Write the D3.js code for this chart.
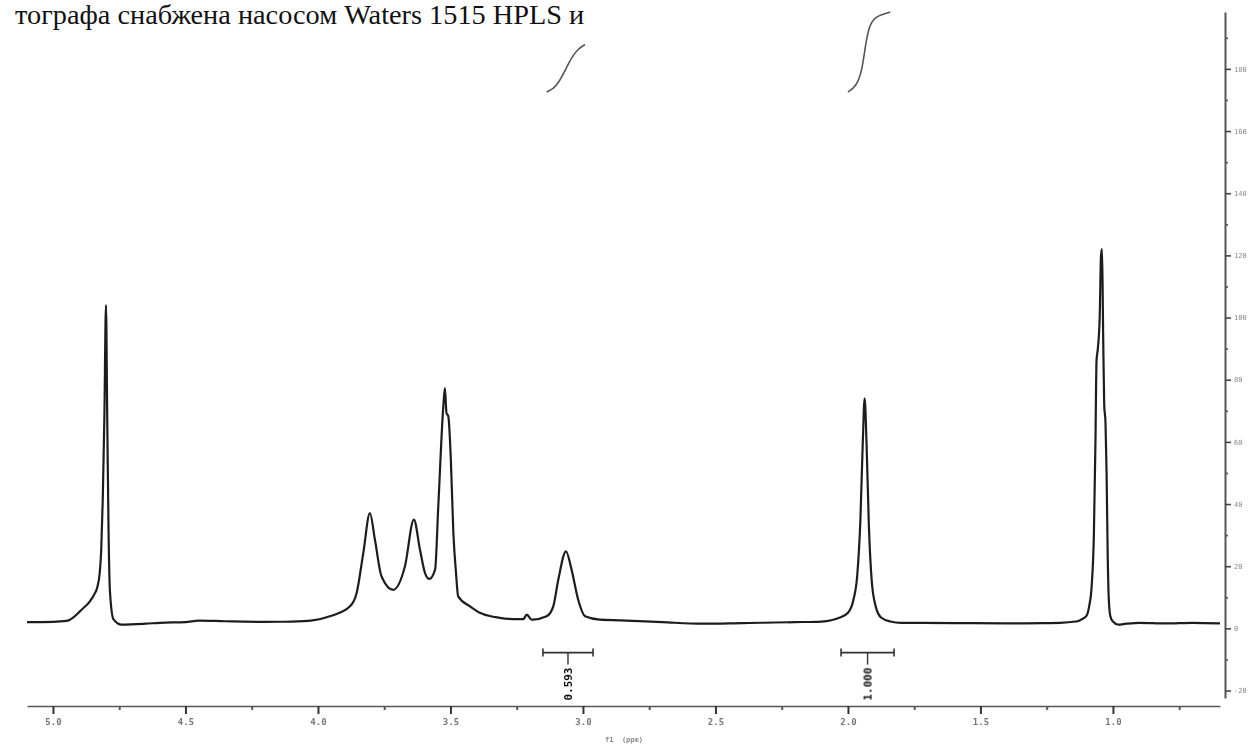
<!DOCTYPE html>
<html><head><meta charset="utf-8">
<script src="https://cdn.jsdelivr.net/npm/d3@7"></script>
<style>body{margin:0;background:#fff} svg{display:block}</style>
</head><body>
<svg id="c" width="1250" height="744"></svg>
<script>
// 1H NMR trace: [chemical shift (ppm), intensity]
const spectrum = [
  [5.098, 2.0],[5.00, 2.1],[4.95, 2.4],[4.936, 2.8],[4.892, 6],[4.860, 8.8],[4.845, 10.8],[4.832, 13.5],
  [4.824, 17.5],[4.818, 25],[4.812, 42],[4.806, 68],[4.800, 104],[4.795, 66],[4.790, 30],[4.785, 12],
  [4.772, 3],[4.741, 1.2],
  [4.65, 1.5],[4.596, 1.8],[4.50, 2.0],[4.45, 2.5],[4.35, 2.3],[4.20, 2.1],[4.10, 2.2],[4.02, 2.6],
  [3.955, 3.9],[3.879, 7.1],[3.854, 11.4],[3.829, 24.2],[3.804, 37.1],[3.785, 28.5],[3.760, 16.7],
  [3.716, 12.4],[3.672, 19.9],[3.638, 35.0],[3.615, 25.3],[3.596, 17.8],[3.580, 15.9],[3.558, 18.9],
  [3.546, 39.2],[3.527, 71.4],[3.521, 77.3],[3.515, 69.3],[3.508, 68.2],[3.499, 55.3],[3.489, 30.7],
  [3.479, 17.8],[3.471, 10.3],[3.426, 7.1],[3.389, 5.0],[3.33, 3.6],[3.264, 3.0],[3.225, 3.0],
  [3.212, 4.4],[3.194, 2.8],[3.137, 3.9],[3.112, 7.1],[3.093, 15.7],[3.064, 24.8],[3.043, 18.9],
  [3.018, 9.2],[2.992, 3.9],[2.936, 2.8],[2.860, 2.6],[2.70, 2.0],[2.55, 1.5],[2.40, 1.7],[2.20, 2.0],
  [2.10, 2.2],[2.03, 3.5],[2.00, 5],[1.98, 9],[1.965, 17],[1.953, 35],[1.944, 60],[1.937, 74],
  [1.930, 60],[1.921, 33],[1.910, 15],[1.895, 7],[1.875, 3.5],[1.84, 2.2],[1.80, 1.8],[1.60, 1.7],
  [1.40, 1.6],[1.20, 1.8],[1.14, 2.2],[1.12, 2.8],[1.10, 4],[1.09, 7],[1.08, 14],[1.072, 30],
  [1.066, 60],[1.062, 86],[1.057, 90],[1.050, 100],[1.045, 120],[1.041, 122],[1.037, 95],[1.033, 72],
  [1.028, 66],[1.024, 50],[1.020, 25],[1.016, 10],[1.010, 4],[1.0, 2.2],[0.98, 1.2],[0.95, 1.5],
  [0.90, 1.8],[0.80, 1.6],[0.70, 1.8],[0.596, 1.6]
];

// integration regions (ppm, from -> to) and their normalised integrals
const integralRanges = [[3.151, 2.962], [2.026, 1.826]];
const integralValues = [0.593, 1.000];
const integralLabels = ["0.593", "1.000"];

// axis ticks
const ppmTicks = [5.0, 4.5, 4.0, 3.5, 3.0, 2.5, 2.0, 1.5, 1.0];
const ppmLabels = ["5.0", "4.5", "4.0", "3.5", "3.0", "2.5", "2.0", "1.5", "1.0"];
const ppmMinorTicks = [4.75, 4.25, 3.75, 3.25, 2.75, 2.25, 1.75, 1.25, 0.75];
const intensityTicks = [-20, 0, 20, 40, 60, 80, 100, 120, 140, 160, 180];
const intensityLabels = ["-20", "0", "20", "40", "60", "80", "100", "120", "140", "160", "180"];
const intensityMinorTicks = [-10, 10, 30, 50, 70, 90, 110, 130, 150, 170, 190];

const heading = "тографа снабжена насосом Waters 1515 HPLS и";
const xTitle = "f1  (ppm)";

const svg = d3.select("#c");

const defs = svg.append("defs");
defs.append("filter").attr("id", "soft")
  .append("feGaussianBlur").attr("stdDeviation", 0.55);

// running text above the figure
svg.append("text")
  .attr("x", 15).attr("y", 24)
  .attr("font-family", "Liberation Serif, serif")
  .attr("font-size", 28.3)
  .attr("fill", "#111")
  .text(heading);

const g = svg.append("g").attr("filter", "url(#soft)");

const x = d3.scaleLinear().domain([5.098, 0.596]).range([27, 1220]);
const y = d3.scaleLinear().domain([-22.4, 198.3]).range([698, 12]);

// bottom ppm axis
const axisY = 706;
const bottom = g.append("g").attr("transform", `translate(0,${axisY})`)
  .call(d3.axisBottom(x).tickValues(ppmTicks).tickSize(8).tickSizeOuter(0)
    .tickFormat((d, i) => ppmLabels[i]));
bottom.select(".domain").attr("stroke", "#555").attr("stroke-width", 1.6);
bottom.selectAll(".tick line").attr("stroke", "#333").attr("stroke-width", 2);
bottom.selectAll(".tick text")
  .attr("font-family", "DejaVu Sans Mono, monospace").attr("font-size", 9)
  .attr("font-weight", "bold").attr("fill", "#777").attr("dy", "0.9em");
const bottomMinor = g.append("g").attr("transform", `translate(0,${axisY})`)
  .call(d3.axisBottom(x).tickValues(ppmMinorTicks).tickSize(4).tickFormat(""));
bottomMinor.select(".domain").remove();
bottomMinor.selectAll(".tick line").attr("stroke", "#555").attr("stroke-width", 2);

g.append("text")
  .attr("x", 624).attr("y", 742)
  .attr("text-anchor", "middle")
  .attr("font-family", "DejaVu Sans Mono, monospace").attr("font-size", 7)
  .attr("font-weight", "bold").attr("fill", "#888")
  .attr("xml:space", "preserve")
  .text(xTitle);

// right intensity axis
const axisX = 1225;
const right = g.append("g").attr("transform", `translate(${axisX},0)`)
  .call(d3.axisRight(y).tickValues(intensityTicks).tickSize(6).tickSizeOuter(0)
    .tickFormat((d, i) => intensityLabels[i]));
right.select(".domain").attr("stroke", "#555").attr("stroke-width", 2);
right.selectAll(".tick line").attr("stroke", "#444").attr("stroke-width", 1.6);
right.selectAll(".tick text")
  .attr("font-family", "DejaVu Sans Mono, monospace").attr("font-size", 7)
  .attr("fill", "#888").attr("x", 9);
const rightMinor = g.append("g").attr("transform", `translate(${axisX},0)`)
  .call(d3.axisRight(y).tickValues(intensityMinorTicks).tickSize(3).tickFormat(""));
rightMinor.select(".domain").remove();
rightMinor.selectAll(".tick line").attr("stroke", "#555").attr("stroke-width", 1.6);

// spectrum trace
const line = d3.line()
  .x(d => x(d[0])).y(d => y(d[1]))
  .curve(d3.curveMonotoneX);
g.append("path")
  .datum(spectrum)
  .attr("d", line)
  .attr("fill", "none")
  .attr("stroke", "#1e1e1e")
  .attr("stroke-width", 2.2)
  .attr("stroke-linejoin", "round");

// integration curves (cumulative area over each region, scaled by its integral)
const integralBase = 92;     // y of the curve start
const integralUnit = 80;     // px per integral unit
const bracketVal = -7.8;     // bracket level on the intensity scale

integralRanges.forEach((r, k) => {
  const [hi, lo] = r;
  const pts = spectrum.filter(d => d[0] <= hi && d[0] >= lo);
  let acc = 0;
  const cum = [[pts[0][0], 0]];
  for (let i = 1; i < pts.length; i++) {
    acc += (pts[i - 1][0] - pts[i][0]) * (pts[i - 1][1] + pts[i][1]) / 2;
    cum.push([pts[i][0], acc]);
  }
  const total = acc;
  const ig = d3.line()
    .x(d => x(d[0]))
    .y(d => integralBase - d[1] / total * integralValues[k] * integralUnit)
    .curve(d3.curveBasis);
  g.append("path")
    .datum(cum)
    .attr("d", ig)
    .attr("fill", "none")
    .attr("stroke", "#555")
    .attr("stroke-width", 1.6);

  // bracket under the trace
  const by = y(bracketVal);
  const x0 = x(hi), x1 = x(lo), xm = (x0 + x1) / 2;
  g.append("line").attr("x1", x0).attr("x2", x1).attr("y1", by).attr("y2", by)
    .attr("stroke", "#333").attr("stroke-width", 1.6);
  [x0, x1].forEach(xx => g.append("line").attr("x1", xx).attr("x2", xx)
    .attr("y1", by - 4).attr("y2", by + 4).attr("stroke", "#333").attr("stroke-width", 1.6));
  g.append("line").attr("x1", xm).attr("x2", xm).attr("y1", by).attr("y2", by + 12)
    .attr("stroke", "#333").attr("stroke-width", 1.4);
  g.append("text")
    .attr("transform", `translate(${xm + 4},${by + 48}) rotate(-90)`)
    .attr("font-family", "DejaVu Sans Mono, monospace").attr("font-size", 11)
    .attr("font-weight", "bold").attr("fill", "#111")
    .text(integralLabels[k]);
});
</script>
</body></html>
